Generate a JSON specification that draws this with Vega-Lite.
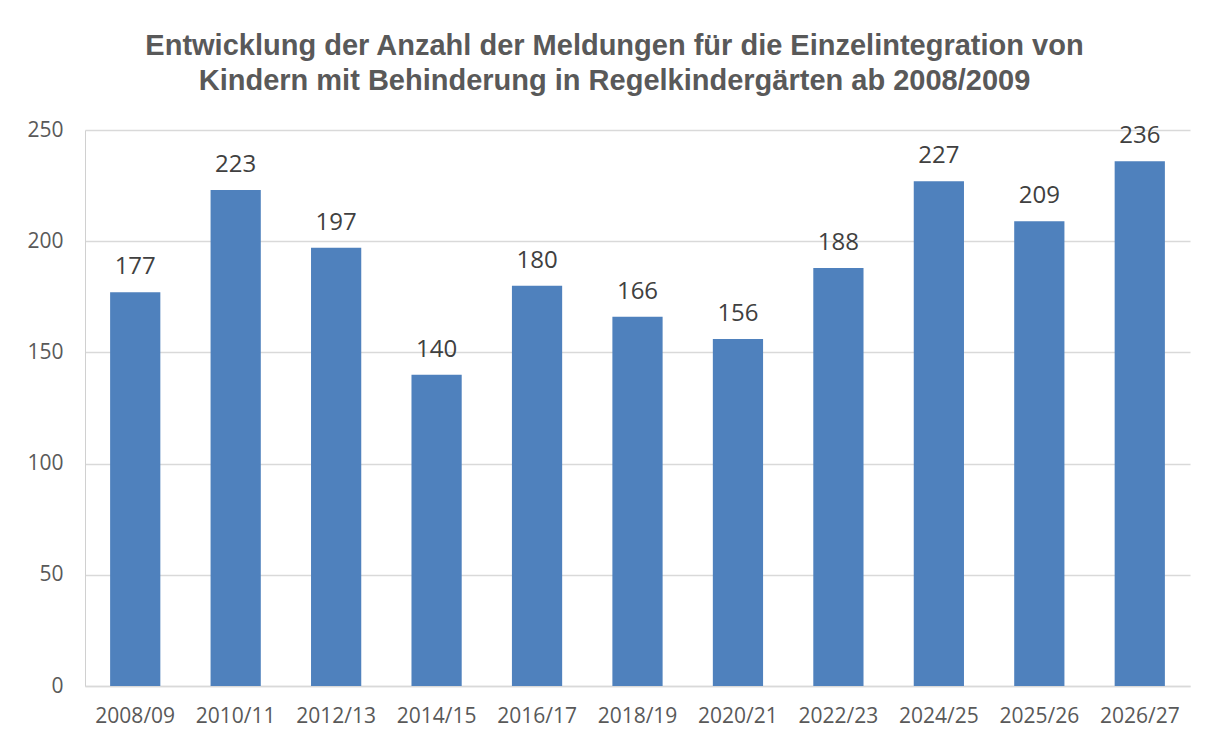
{
  "$schema": "https://vega.github.io/schema/vega-lite/v6.json",
  "width": 1105,
  "height": 556,
  "autosize": {"type": "none"},
  "padding": {"left": 85, "top": 130, "right": 24, "bottom": 54},
  "background": "white",
  "title": {
    "text": ["Entwicklung der Anzahl der Meldungen für die Einzelintegration von", "Kindern mit Behinderung in Regelkindergärten ab 2008/2009"],
    "font": "Liberation Sans",
    "fontSize": 29,
    "fontWeight": "bold",
    "color": "#595959",
    "lineHeight": 35,
    "anchor": "middle",
    "frame": "bounds",
    "offset": 23,
    "dx": 6
  },
  "data": {
    "values": [
      {"jahr": "2008/09", "anzahl": 177},
      {"jahr": "2010/11", "anzahl": 223},
      {"jahr": "2012/13", "anzahl": 197},
      {"jahr": "2014/15", "anzahl": 140},
      {"jahr": "2016/17", "anzahl": 180},
      {"jahr": "2018/19", "anzahl": 166},
      {"jahr": "2020/21", "anzahl": 156},
      {"jahr": "2022/23", "anzahl": 188},
      {"jahr": "2024/25", "anzahl": 227},
      {"jahr": "2025/26", "anzahl": 209},
      {"jahr": "2026/27", "anzahl": 236}
    ]
  },
  "encoding": {
    "x": {
      "field": "jahr",
      "type": "ordinal",
      "sort": null,
      "scale": {"paddingInner": 0.5, "paddingOuter": 0.25},
      "axis": {
        "title": null,
        "labelAngle": 0,
        "labelFont": "Open Sans",
        "labelFontSize": 21,
        "labelColor": "#595959",
        "labelPadding": 19,
        "ticks": false,
        "domainColor": "#d9d9d9",
        "domainWidth": 1.5,
        "grid": false
      }
    },
    "y": {
      "field": "anzahl",
      "type": "quantitative",
      "scale": {"domain": [0, 250], "nice": false},
      "axis": {
        "title": null,
        "values": [0, 50, 100, 150, 200, 250],
        "labelFont": "Open Sans",
        "labelFontSize": 21,
        "labelColor": "#595959",
        "labelPadding": 22,
        "ticks": false,
        "domainColor": "#d0d0d0",
        "gridColor": "#d9d9d9",
        "gridWidth": 1.5
      }
    }
  },
  "layer": [
    {"mark": {"type": "bar", "color": "#4F81BD"}},
    {
      "mark": {"type": "text", "dy": -18, "baseline": "alphabetic", "font": "Open Sans", "fontSize": 24, "color": "#404040"},
      "encoding": {"text": {"field": "anzahl", "type": "quantitative"}}
    }
  ],
  "config": {"view": {"stroke": null}}
}
